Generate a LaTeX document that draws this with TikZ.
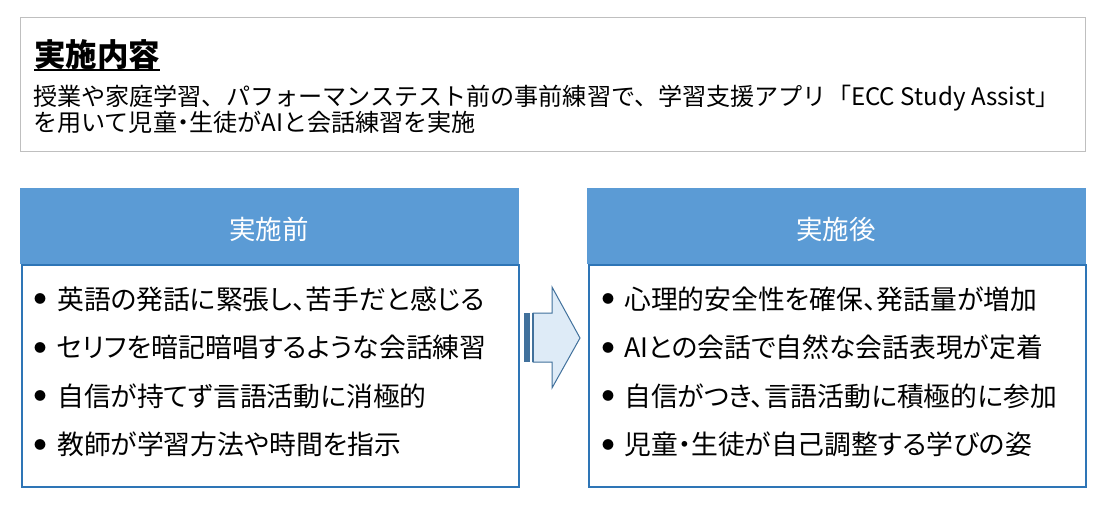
\documentclass[tikz,border=0pt]{standalone}
\usepackage{fontspec}
\setmainfont{Noto Sans CJK JP}[RawFeature={+palt}]
\newfontfamily\plainjp{Noto Sans CJK JP}
\newfontfamily\paltjp{Noto Sans CJK JP}[RawFeature={+palt}]
\definecolor{hdr}{HTML}{5B9BD5}
\definecolor{bord}{HTML}{2E75B6}
\definecolor{topgray}{HTML}{BFBFBF}
\definecolor{arrfill}{HTML}{DEEBF7}
\definecolor{arrline}{HTML}{41719C}
\tikzset{
  topframe/.style={draw=topgray, line width=1pt, anchor=north west, inner sep=0pt},
  titletext/.style={anchor=west, inner sep=0pt, font=\plainjp\fontsize{31.5}{33}\selectfont\bfseries},
  bodytext/.style={anchor=west, inner sep=0pt, font=\plainjp\fontsize{24.1}{26}\selectfont},
  header/.style={fill=hdr, anchor=north west, inner sep=0pt, minimum width=499pt, minimum height=76pt, text=white},
  headtext/.style={inner sep=0pt, text=white, font=\plainjp\fontsize{26.5}{28}\selectfont},
  panel/.style={draw=bord, line width=2pt, anchor=north west, inner sep=0pt, minimum width=497pt, minimum height=222pt},
  bul/.style={anchor=center, inner sep=0pt, font=\plainjp\fontsize{12}{14}\selectfont},
  item/.style={anchor=west, inner sep=0pt, font=\fontsize{26.8}{29}\selectfont},
  arrowshape/.style={fill=arrfill, draw=arrline, line width=1pt, line join=miter},
  stripe/.style={fill=arrline, draw=none}
}
\begin{document}
\begin{tikzpicture}[x=1pt,y=-1pt]
\useasboundingbox (0,0) rectangle (1108,515);
\fill[white] (0,0) rectangle (1108,515);

% top box
\node[topframe, minimum width=1065pt, minimum height=134pt] (topbox) at (20,17) {};
\node[titletext] (title) at (34,55) {実施内容};
\draw[line width=2.5pt] (title.south west) -- (title.south east);
\node[bodytext] (l1) at (33,98) {授業や家庭学習、パフォーマンステスト前の事前練習で、学習支援アプリ「ECC Study Assist」};
\node[bodytext] (l2) at (33,122.5) {を用いて児童{\paltjp ・}生徒がAIと会話練習を実施};

% left panel
\node[header] (hl) at (20,188) {};
\node[headtext] (hlt) at (269,229) {実施前};
\node[panel] (pl) at (21,264) {};
\node[bul] (bl1) at (40,299) {●};
\node[item] (tl1) at (57,299) {英語の発話に緊張し、苦手だと感じる};
\node[bul] (bl2) at (40,347.5) {●};
\node[item] (tl2) at (57,347.5) {セリフを暗記暗唱するような会話練習};
\node[bul] (bl3) at (40,396) {●};
\node[item] (tl3) at (57,396) {自信が持てず言語活動に消極的};
\node[bul] (bl4) at (40,444.5) {●};
\node[item] (tl4) at (57,444.5) {教師が学習方法や時間を指示};

% right panel
\node[header] (hr) at (587,188) {};
\node[headtext] (hrt) at (836,229) {実施後};
\node[panel] (pr) at (588,264) {};
\node[bul] (br1) at (608,299) {●};
\node[item] (tr1) at (624,299) {心理的安全性を確保、発話量が増加};
\node[bul] (br2) at (608,347.5) {●};
\node[item] (tr2) at (624,347.5) {AIとの会話で自然な会話表現が定着};
\node[bul] (br3) at (608,396) {●};
\node[item] (tr3) at (624,396) {自信がつき、言語活動に積極的に参加};
\node[bul] (br4) at (608,444.5) {●};
\node[item] (tr4) at (624,444.5) {児童・生徒が自己調整する学びの姿};

% striped arrow
\draw[arrowshape] (533,313) -- (552,313) -- (552,287) -- (580,338) -- (552,388) -- (552,362) -- (533,362) -- cycle;
\fill[stripe] (524,313) rectangle (530,362);
\fill[stripe] (531.5,313) rectangle (533.5,362);
\end{tikzpicture}
\end{document}
